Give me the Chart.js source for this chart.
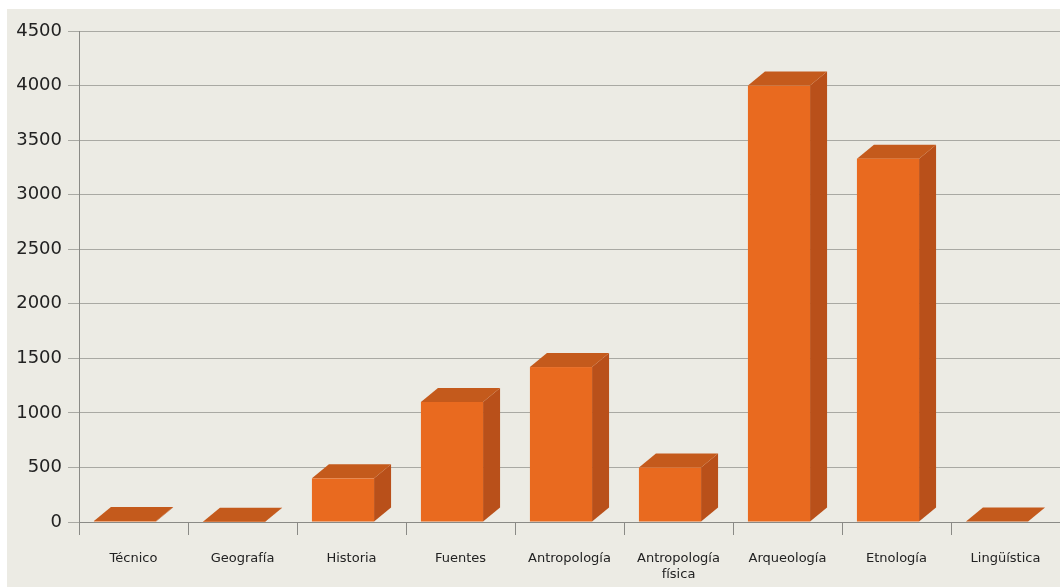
<!DOCTYPE html>
<html>
<head>
<meta charset="utf-8">
<script src="https://cdn.jsdelivr.net/npm/chart.js@4/dist/chart.umd.min.js"></script>
<style>
  html, body { margin: 0; padding: 0; background: #ffffff; }
  #panel { position: absolute; left: 7px; top: 9px; width: 1053px; height: 578px; background: #ecebe4; }
</style>
</head>
<body>
<div id="panel"><canvas id="chart"></canvas></div>
<script>
// ── Data ───────────────────────────────────────────────
const categories = ['Técnico', 'Geografía', 'Historia', 'Fuentes', 'Antropología',
  ['Antropología', 'física'], 'Arqueología', 'Etnología', 'Lingüística'];
const values = [10, 2, 400, 1100, 1420, 500, 4000, 3330, 5];
const yTicks = [0, 500, 1000, 1500, 2000, 2500, 3000, 3500, 4000, 4500];

// ── 3D look ────────────────────────────────────────────
const DX = 17, DY = 14;
const FRONT = '#e96a1f', SIDE = '#b9501a', TOP = '#c45a1c';

const depthBars = {
  id: 'depthBars',
  afterDatasetsDraw(chart) {
    const ctx = chart.ctx;
    const meta = chart.getDatasetMeta(0);
    ctx.save();
    meta.data.forEach(bar => {
      const { x, y, base, width } = bar.getProps(['x', 'y', 'base', 'width'], true);
      const left = x - width / 2 - DX / 2;
      const right = left + width;
      // side
      ctx.fillStyle = SIDE;
      ctx.beginPath();
      ctx.moveTo(right, y);
      ctx.lineTo(right + DX, y - DY);
      ctx.lineTo(right + DX, base - DY);
      ctx.lineTo(right, base);
      ctx.closePath();
      ctx.fill();
      // top
      ctx.fillStyle = TOP;
      ctx.beginPath();
      ctx.moveTo(left, y);
      ctx.lineTo(left + DX, y - DY);
      ctx.lineTo(right + DX, y - DY);
      ctx.lineTo(right, y);
      ctx.closePath();
      ctx.fill();
      // front
      ctx.fillStyle = FRONT;
      ctx.fillRect(left, y, width, base - y);
    });
    ctx.restore();
  }
};

// ── Chart ──────────────────────────────────────────────
new Chart(document.getElementById('chart'), {
  type: 'bar',
  data: {
    labels: categories,
    datasets: [{
      data: values,
      backgroundColor: 'rgba(0,0,0,0)',
      categoryPercentage: 1,
      barPercentage: 0.57,
    }],
  },
  options: {
    responsive: true,
    maintainAspectRatio: false,
    animation: false,
    layout: { padding: { top: 22, right: 0, bottom: 2, left: 0 } },
    plugins: { legend: { display: false }, tooltip: { enabled: false } },
    scales: {
      x: {
        offset: true,
        afterFit: axis => { axis.height = 63; },
        grid: { offset: true, drawOnChartArea: false, color: '#8a8a86', tickLength: 13 },
        border: { color: '#8a8a86' },
        ticks: { color: '#222', padding: 16, font: { family: 'DejaVu Sans', size: 13 }, maxRotation: 0, autoSkip: false },
      },
      y: {
        min: 0,
        max: 4500,
        afterBuildTicks: axis => { axis.ticks = yTicks.map(v => ({ value: v })); },
        afterFit: axis => { axis.width = 72; },
        grid: { color: '#a9a9a3', tickLength: 11 },
        border: { color: '#8a8a86' },
        ticks: { color: '#222', padding: 6, font: { family: 'DejaVu Sans', size: 18 }, callback: v => String(v) },
      },
    },
  },
  plugins: [depthBars],
});
</script>
</body>
</html>
